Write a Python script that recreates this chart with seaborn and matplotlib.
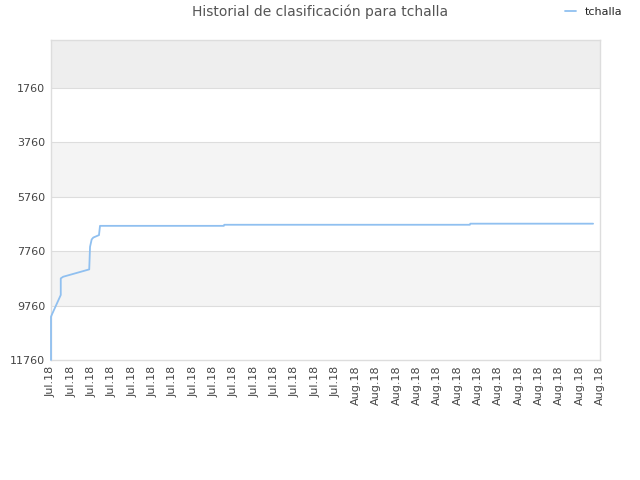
import pandas as pd
import seaborn as sns
import matplotlib
matplotlib.use("Agg")
import matplotlib.pyplot as plt

# position along the date axis (in tick steps) and ranking
pos = [0.0, 0.0, 0.05, 0.48, 0.48, 0.6, 1.88, 1.92, 2.0, 2.08, 2.36, 2.41,
       8.5, 8.52, 20.6, 20.62, 26.66]
rank = [11760, 10170, 10080, 9370, 8760, 8700, 8430, 7600, 7330, 7260, 7170,
        6830, 6830, 6790, 6790, 6750, 6750]
tick_labels = ["Jul.18"] * 15 + ["Aug.18"] * 13
y_ticks = [1760, 3760, 5760, 7760, 9760, 11760]

df = pd.DataFrame({"pos": pos, "rank": rank, "player": "tchalla"})

sns.set_style("white")
plt.rcParams['font.family'] = ['DejaVu Sans']

fig = plt.figure(figsize=(6.4, 4.8), dpi=100)
ax = fig.add_axes([51 / 640, 0.25, 549 / 640, 320 / 480])

# background bands
ax.axhspan(0, 1760, color="#eeeeee", zorder=0, lw=0)
ax.axhspan(3760, 5760, color="#f4f4f4", zorder=0, lw=0)
ax.axhspan(7760, 9760, color="#f4f4f4", zorder=0, lw=0)
for yv in y_ticks[:-1]:
    ax.axhline(yv, color="#dddddd", lw=0.8, zorder=1)

sns.lineplot(data=df, x="pos", y="rank", hue="player", palette=["#90c0f0"],
             sort=False, estimator=None, lw=1.3, ax=ax, zorder=3, legend=False)
ax.lines[-1].set_clip_on(False)

ax.set_xlim(0, 27)
ax.set_ylim(11760, 0)
ax.set_yticks(y_ticks)
ax.set_yticklabels([str(v) for v in y_ticks], fontsize=8, color="#444444")
ax.set_xticks(range(len(tick_labels)))
ax.set_xticklabels(tick_labels, rotation=90, fontsize=8, color="#444444")
ax.tick_params(length=0, pad=4)
ax.set_xlabel("")
ax.set_ylabel("")
for s in ax.spines.values():
    s.set_color("#dddddd")
    s.set_linewidth(1)

fig.text(0.5, 0.975, "Historial de clasificación para tchalla", ha="center",
         va="center", fontsize=10, color="#555555")
fig.legend(handles=[ax.lines[-1]], labels=["tchalla"], loc="center right",
           bbox_to_anchor=(0.973, 0.975), frameon=False, fontsize=8,
           handlelength=1.0, handletextpad=0.8, borderaxespad=0, borderpad=0)

fig.savefig("out.png", dpi=100)
